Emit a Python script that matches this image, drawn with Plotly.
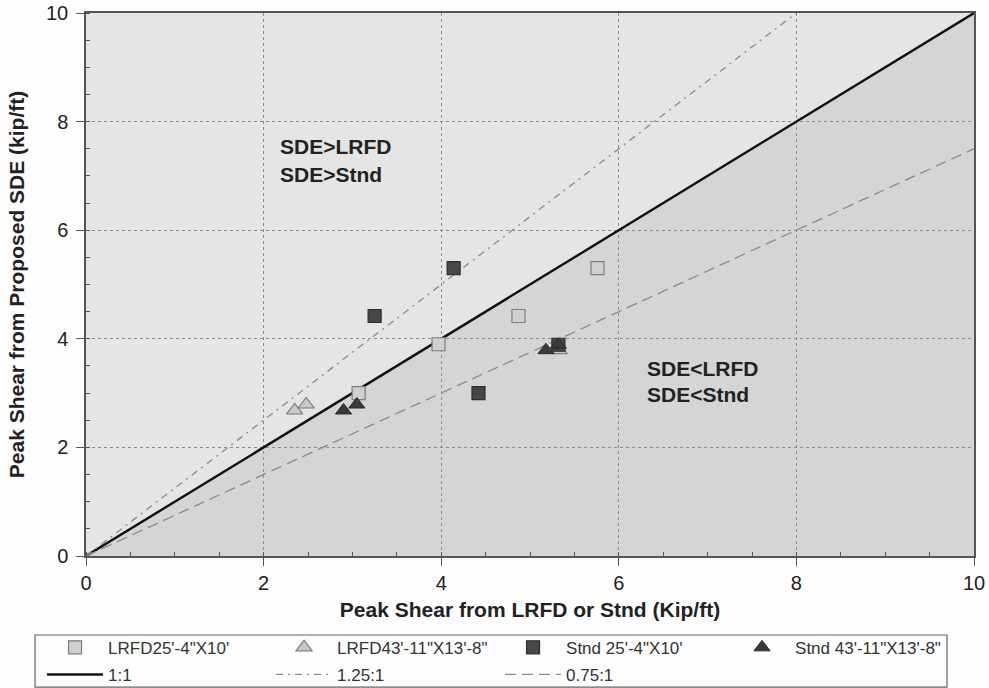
import plotly.graph_objects as go

# Peak shear comparison: proposed SDE vs LRFD / Standard specifications (kip/ft)
lrfd25_x = [3.07, 3.97, 4.87, 5.76]
lrfd25_y = [3.00, 3.90, 4.42, 5.30]

lrfd43_x = [2.35, 2.48, 5.33]
lrfd43_y = [2.68, 2.79, 3.79]

stnd25_x = [3.25, 4.14, 4.42, 5.32]
stnd25_y = [4.42, 5.30, 3.00, 3.89]

stnd43_x = [2.90, 3.05, 5.18, 5.32]
stnd43_y = [2.68, 2.79, 3.79, 3.89]

ratio_names = ["1:1", "1.25:1", "0.75:1"]
ratios = [1.0, 1.25, 0.75]

axis_min, axis_max = 0, 10
tick_vals = [0, 2, 4, 6, 8, 10]

FONT = "Liberation Sans, Arial, sans-serif"
TXT = "#222222"

fig = go.Figure()

# reference ratio lines (clipped to the axis range)
line_styles = [
    dict(color="#111111", width=2.4, dash="solid"),
    dict(color="#8a8a8a", width=1.3, dash="7px,5px,2px,5px"),
    dict(color="#8a8a8a", width=1.3, dash="11px,6px"),
]
for name, r, st in zip(ratio_names, ratios, line_styles):
    x_end = min(axis_max, axis_max / r)
    fig.add_trace(go.Scatter(
        x=[axis_min, x_end], y=[axis_min, x_end * r], mode="lines",
        name=name, line=st, legend="legend2", hoverinfo="skip"))

# data series
fig.add_trace(go.Scatter(
    x=lrfd25_x, y=lrfd25_y, mode="markers", name="LRFD25'-4\"X10'",
    marker=dict(symbol="square", size=13, color="#d0d0d0",
                line=dict(color="#7d7d7d", width=1.2))))
fig.add_trace(go.Scatter(
    x=lrfd43_x, y=lrfd43_y, mode="markers", name="LRFD43'-11\"X13'-8\"",
    marker=dict(symbol="triangle-up", size=14, color="#c8c8c8",
                line=dict(color="#7d7d7d", width=1.2))))
fig.add_trace(go.Scatter(
    x=stnd25_x, y=stnd25_y, mode="markers", name="Stnd 25'-4\"X10'",
    marker=dict(symbol="square", size=13, color="#474747",
                line=dict(color="#2e2e2e", width=1.2))))
fig.add_trace(go.Scatter(
    x=stnd43_x, y=stnd43_y, mode="markers", name="Stnd 43'-11\"X13'-8\"",
    marker=dict(symbol="triangle-up", size=14, color="#3a3a3a",
                line=dict(color="#2a2a2a", width=1.0))))

axis_common = dict(
    range=[axis_min, axis_max], tickvals=tick_vals, ticks="outside", ticklen=8,
    tickwidth=1.2, tickcolor="#555555", showline=True, linecolor="#555555",
    linewidth=1.5, mirror=True, showgrid=True, gridcolor="#8c8c8c", gridwidth=1,
    griddash="dot", zeroline=False, tickfont=dict(family=FONT, size=20, color=TXT),
    minor=dict(dtick=0.5, ticks="inside", ticklen=4, tickcolor="#555555",
               showgrid=False),
)

legend_common = dict(
    orientation="h", xanchor="left", yanchor="middle",
    entrywidth=158, entrywidthmode="pixels", itemwidth=56,
    font=dict(family=FONT, size=17, color="#333333"),
    bgcolor="rgba(0,0,0,0)", traceorder="normal",
)

fig.update_layout(
    width=989, height=688,
    margin=dict(l=86, r=15, t=13, b=132, autoexpand=False),
    paper_bgcolor="#fdfdfd",
    plot_bgcolor="#d5d5d5",
    font=dict(family=FONT, color=TXT),
    xaxis=dict(**axis_common,
               title=dict(text="<b>Peak Shear from LRFD or Stnd (Kip/ft)</b>",
                          font=dict(size=21, color=TXT), standoff=10)),
    yaxis=dict(**axis_common, ticklabelstandoff=4,
               title=dict(text="<b>Peak Shear from Proposed SDE (kip/ft)</b>",
                          font=dict(size=21, color=TXT), standoff=16)),
    legend=dict(**legend_common, x=-0.0495, y=-0.169),
    legend2=dict(**legend_common, x=-0.0495, y=-0.219),
    showlegend=True,
)

# shaded region above the 1:1 line
fig.add_shape(type="path", xref="x", yref="y", layer="below",
              path=f"M {axis_min},{axis_min} L {axis_min},{axis_max} "
                   f"L {axis_max},{axis_max} Z",
              fillcolor="#e5e5e5", line=dict(width=0))

# legend frame
fig.add_shape(type="rect", xref="paper", yref="paper",
              x0=-0.0574, x1=0.9696, y0=-0.2413, y1=-0.1455,
              line=dict(color="#666666", width=1.2), fillcolor="rgba(0,0,0,0)")

# region labels
region_labels = [
    ("SDE>LRFD", 2.16, 7.55), ("SDE>Stnd", 2.16, 7.03),
    ("SDE<LRFD", 6.30, 3.46), ("SDE<Stnd", 6.30, 2.98),
]
for txt, lx, ly in region_labels:
    fig.add_annotation(x=lx, y=ly, xref="x", yref="y", text=f"<b>{txt}</b>",
                       showarrow=False, xanchor="left", yanchor="middle",
                       font=dict(family=FONT, size=21, color=TXT))

fig.write_html("out.html")
